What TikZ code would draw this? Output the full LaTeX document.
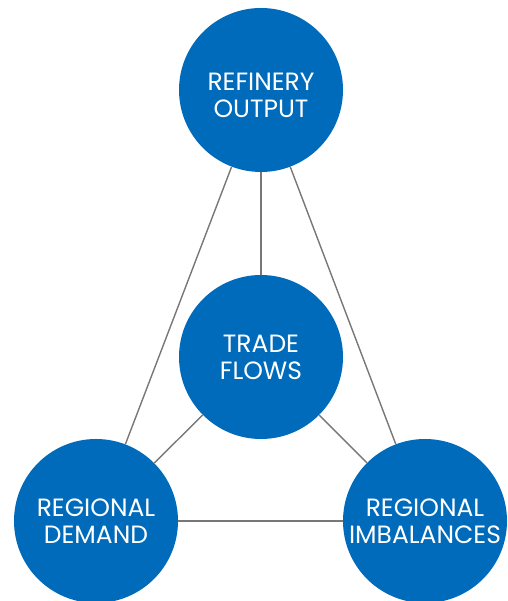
\documentclass[tikz,border=0pt]{standalone}
\usepackage{fontspec}
\setmainfont{Poppins}
\definecolor{hubblue}{HTML}{006BBB}
\definecolor{linkgray}{HTML}{777777}
\begin{document}
\begin{tikzpicture}[x=1pt,y=1pt,
  hub/.style={circle,fill=hubblue,minimum size=164pt,inner sep=0pt},
  caption/.style={text=white,align=center,font=\fontsize{25}{27}\selectfont},
  link/.style={draw=linkgray,line width=1.4pt}]
\useasboundingbox (0,0) rectangle (507,601);
% the four circles with their captions
\node[hub,label={[caption,yshift=-5pt]center:{REFINERY\\OUTPUT}}] (top) at (261,511) {};
\node[hub,label={[caption]center:{TRADE\\FLOWS}}] (mid) at (261,244) {};
\node[hub,label={[caption]center:{REGIONAL\\DEMAND}}] (left) at (96,80) {};
\node[hub,label={[caption]center:{REGIONAL\\IMBALANCES}}] (right) at (425,80) {};
% connectors between circle borders
\path[link] (top) -- (left);
\path[link] (top) -- (right);
\path[link] (top) -- (mid);
\path[link] (mid) -- (left);
\path[link] (mid) -- (right);
\path[link] (left) -- (right);
\end{tikzpicture}
\end{document}
